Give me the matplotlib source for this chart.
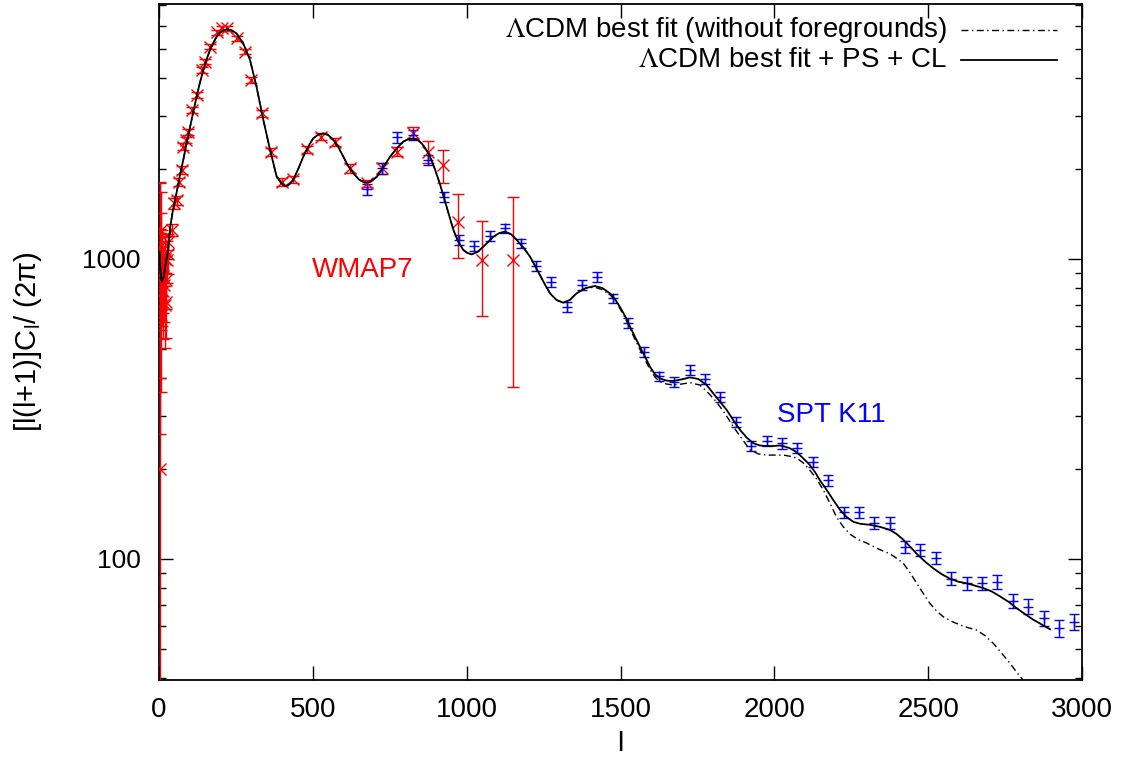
import numpy as np
import matplotlib
matplotlib.use('Agg')
import matplotlib.pyplot as plt
from matplotlib.ticker import FixedLocator, NullFormatter, LogLocator, FixedFormatter

plt.rcParams['font.family'] = ['Liberation Sans', 'DejaVu Sans']
plt.rcParams['mathtext.fontset'] = 'custom'
plt.rcParams['mathtext.rm'] = 'Liberation Sans'
plt.rcParams['mathtext.it'] = 'Liberation Sans:italic'
plt.rcParams['mathtext.sf'] = 'Liberation Sans'

# ---------------- data ----------------
# LCDM best fit + PS + CL (solid)
fit_l = [2, 5, 9, 15, 20, 30, 36, 45, 57, 68, 79, 90, 101, 112, 122, 133, 144, 155, 166,
         177, 187, 198, 210, 220, 235, 252, 274, 296, 317, 339, 361, 382, 397, 410, 423, 436,
         452, 469, 485, 501, 518, 534, 550, 567, 583, 599, 615, 632, 650, 669, 688, 708, 730,
         751, 773, 794, 811, 827, 842, 855, 868, 881, 897, 913, 924, 935, 946, 957, 973, 989,
         1002, 1016, 1035, 1054, 1070, 1087, 1106, 1125, 1144, 1163, 1185, 1206, 1222, 1238,
         1255, 1271, 1292, 1314, 1335, 1357, 1387, 1417, 1441, 1466, 1482, 1498, 1515, 1531,
         1547, 1563, 1580, 1596, 1612, 1628, 1650, 1672, 1699, 1726, 1753, 1780, 1801, 1823,
         1845, 1867, 1889, 1910, 1932, 1953, 1975, 1997, 2018, 2034, 2050, 2067, 2083, 2099,
         2115, 2132, 2148, 2170, 2192, 2213, 2235, 2257, 2279, 2311, 2343, 2376, 2398, 2419,
         2441, 2463, 2490, 2517, 2544, 2571, 2598, 2625, 2652, 2679, 2706, 2734, 2761, 2788,
         2815, 2842, 2869, 2896]
fit_D = [1050, 900, 840, 870, 940, 1080, 1270, 1450, 1660, 1900, 2140, 2440, 2750, 3110, 3470,
         3870, 4260, 4640, 4980, 5270, 5500, 5680, 5790, 5830, 5800, 5650, 5230, 4600, 3750,
         2910, 2310, 1890, 1790, 1751, 1770, 1834, 1990, 2193, 2370, 2524, 2600, 2622, 2590,
         2493, 2360, 2193, 2040, 1930, 1840, 1796, 1810, 1880, 2030, 2193, 2340, 2462, 2510,
         2520, 2490, 2420, 2320, 2193, 1990, 1780, 1630, 1494, 1370, 1249, 1140, 1072, 1048,
         1036, 1055, 1099, 1140, 1187, 1220, 1233, 1210, 1157, 1090, 1018, 950, 884, 820, 768,
         730, 715, 730, 768, 800, 813, 800, 768, 735, 693, 645, 595, 550, 510, 472, 437, 413,
         400, 393, 392, 397, 403, 398, 380, 357, 335, 314, 290, 269, 254, 243, 239, 238, 238,
         239, 237, 234, 229, 222, 214, 206, 195, 183, 170, 157, 146, 138, 133, 131, 130, 128,
         125, 121, 116, 110, 104, 98, 93, 89, 86, 84, 83, 81.5, 80, 78, 75, 72, 68.5, 65.5,
         62.7, 60.5, 58.3]

# LCDM best fit without foregrounds (dash-dot): coincides with the fit below l~1400
nofg_l = fit_l[:fit_l.index(1387) + 1] + [
    1417, 1441, 1466, 1482, 1498, 1515, 1531, 1547, 1563, 1580, 1596, 1612, 1628, 1650,
    1672, 1699, 1726, 1758, 1785, 1812, 1840, 1867, 1894, 1921, 1948, 1975, 2002, 2029,
    2051, 2073, 2094, 2115, 2137, 2159, 2180, 2202, 2224, 2246, 2273, 2300, 2338, 2376,
    2398, 2419, 2441, 2463, 2485, 2506, 2528, 2549, 2576, 2603, 2630, 2657, 2685, 2712,
    2739, 2766, 2785, 2804, 2830]
nofg_D = fit_D[:fit_l.index(1387) + 1] + [
    805, 790, 760, 728, 685, 637, 585, 540, 500, 462, 428, 404, 390, 383,
    380, 383, 387, 380, 358, 334, 305, 276, 252, 231, 224, 222, 222, 222,
    220, 217, 209, 198, 185, 170, 154, 138, 128, 121, 116, 113, 108, 104,
    100.5, 96.8, 90, 83, 76.5, 71, 67, 64.2, 62, 60.3, 59, 58, 55.5, 52.3,
    48.5, 44.9, 42.3, 40, 37]

# WMAP7 band powers
wmap_l = [2, 3, 4, 5, 6, 7, 8, 9, 10, 11, 12, 14, 16, 18, 20, 22, 24, 26, 28,
          30, 41, 49, 57, 66, 74, 79, 88, 95, 108, 122, 139, 150, 166, 187, 204, 222,
          252, 280, 298, 334, 363, 399, 437, 480, 526, 572, 621, 675, 724, 775, 825,
          875, 924, 973, 1051, 1149]
wmap_D = [200, 1100, 760, 1250, 1060, 900, 650, 870, 950, 1000, 780, 880, 820, 700,
          1000, 720, 850, 990, 1040,
          1142, 1249, 1533, 1572, 1810, 1980, 2368, 2493, 2655, 3135, 3524, 4266, 4544,
          5101, 5700, 5870, 5870, 5440, 4915, 3948, 3056, 2278, 1810, 1843, 2320, 2556,
          2462, 2004, 1787, 2004, 2278, 2634, 2278, 2056, 1331, 992, 992]
wmap_err_lo = [180, 700, 500, 420, 360, 320, 290, 270, 260, 250, 240, 220, 205, 195,
               185, 175, 170, 160, 150,
               70, 60, 60, 55, 55, 55, 60, 60, 65, 70, 75, 85, 90, 95, 105, 110, 115,
               115, 110, 95, 80, 65, 55, 55, 60, 70, 75, 70, 45, 80, 80, 110, 190, 260,
               320, 346, 617]
wmap_err_hi = [1590, 700, 500, 420, 360, 320, 290, 270, 260, 250, 240, 220, 205, 195,
               185, 175, 170, 160, 150,
               70, 60, 60, 55, 55, 55, 60, 60, 65, 70, 75, 85, 90, 95, 105, 110, 115,
               115, 110, 95, 80, 65, 55, 55, 60, 70, 75, 70, 45, 80, 80, 110, 190, 260,
               320, 346, 617]

# SPT (Keisler et al. 2011) band powers
spt_l = [675, 725, 775, 825, 875, 925, 975, 1025, 1075, 1125, 1175, 1225, 1275, 1325,
         1375, 1425, 1475, 1525, 1575, 1625, 1675, 1725, 1775, 1825, 1875, 1925, 1975,
         2025, 2075, 2125, 2175, 2225, 2275, 2325, 2375, 2425, 2475, 2525, 2575, 2625,
         2675, 2725, 2775, 2825, 2875, 2925, 2975]
spt_D = [1707, 2005, 2545, 2588, 2138, 1606, 1157, 1105, 1193, 1265, 1128, 950, 840, 693,
         819, 873, 740, 613, 491, 406, 390, 427, 398, 347, 287, 238, 248,
         243, 235, 211, 183, 143, 143, 132, 132, 110, 107, 101, 86, 83,
         83, 84, 72.4, 69.4, 63.4, 58.7, 61.8]
spt_err = [75, 85, 100, 100, 85, 62, 45, 42, 45, 47, 42, 35, 31, 26,
           30, 32, 27, 23, 18, 15, 14.5, 16, 15, 13, 11, 9, 9.5,
           9.5, 9, 8.5, 7.5, 6, 6, 5.7, 5.7, 5, 5, 4.8, 4.3, 4.2,
           4.3, 4.4, 4, 4, 3.8, 3.7, 3.9]

# ---------------- plot ----------------
W, H = 1122, 762
fig = plt.figure(figsize=(W / 100, H / 100), dpi=100)
ax = fig.add_axes([159 / W, 1 - 680 / H, (1082 - 159) / W, (680 - 4) / H])

ax.set_yscale('log')
ax.set_xlim(0, 3000)
ax.set_ylim(39.5, 7080)

ax.errorbar(wmap_l, wmap_D, yerr=[wmap_err_lo, wmap_err_hi], fmt='x', color='#ff0000',
            ms=8, mew=1.0, elinewidth=1.0, capsize=4.5, capthick=1.0, zorder=3)
ax.errorbar(spt_l, spt_D, yerr=spt_err, fmt='+', color='#0000ff',
            ms=7, mew=1.0, elinewidth=1.0, capsize=3.5, capthick=1.0, zorder=3)
ax.plot(nofg_l, nofg_D, color='black', lw=1.0, dashes=(5, 2.5, 1, 2.5), zorder=4)
ax.plot(fit_l, fit_D, color='black', lw=1.3, zorder=5)

# ticks
ax.xaxis.set_major_locator(FixedLocator([0, 500, 1000, 1500, 2000, 2500, 3000]))
ax.yaxis.set_major_locator(FixedLocator([100, 1000]))
ax.yaxis.set_major_formatter(FixedFormatter(['100', '1000']))
ax.yaxis.set_minor_locator(LogLocator(base=10, subs=np.arange(2, 10)))
ax.yaxis.set_minor_formatter(NullFormatter())
ax.tick_params(which='both', direction='in', top=True, right=True, width=1.0)
ax.tick_params(which='major', length=10)
ax.tick_params(which='minor', length=5)
ax.tick_params(axis='x', labelsize=20, pad=12)
ax.tick_params(axis='y', labelsize=19, pad=13)
for sp in ax.spines.values():
    sp.set_linewidth(1.3)

ax.set_xlabel('l', fontsize=20, labelpad=6)
ax.set_ylabel(r'[l(l+1)]C$_\mathrm{l}$/ (2$\mathrm{\pi}$)', fontsize=21, labelpad=28)

# annotations
ax.text(663, 919, 'WMAP7', color='#ff0000', fontsize=20, ha='center', va='center')
ax.text(2184, 302, 'SPT K11', color='#0000ff', fontsize=20, ha='center', va='center')

# key (top right)
ax.text((947 - 159) / 923, 1 - (30 - 4) / 676, r'$\Lambda$CDM best fit (without foregrounds)',
        transform=ax.transAxes, ha='right', va='center', fontsize=20, math_fontfamily='stix')
ax.text((947 - 159) / 923, 1 - (60 - 4) / 676, r'$\Lambda$CDM best fit + PS + CL',
        transform=ax.transAxes, ha='right', va='center', fontsize=20, math_fontfamily='stix')
ax.plot([(961 - 159) / 923, (1057 - 159) / 923], [1 - 26 / 676] * 2, transform=ax.transAxes,
        color='black', lw=1.0, dashes=(5, 2.5, 1, 2.5))
ax.plot([(961 - 159) / 923, (1057 - 159) / 923], [1 - 56 / 676] * 2, transform=ax.transAxes,
        color='black', lw=1.3)

fig.savefig('out.png', dpi=100)
